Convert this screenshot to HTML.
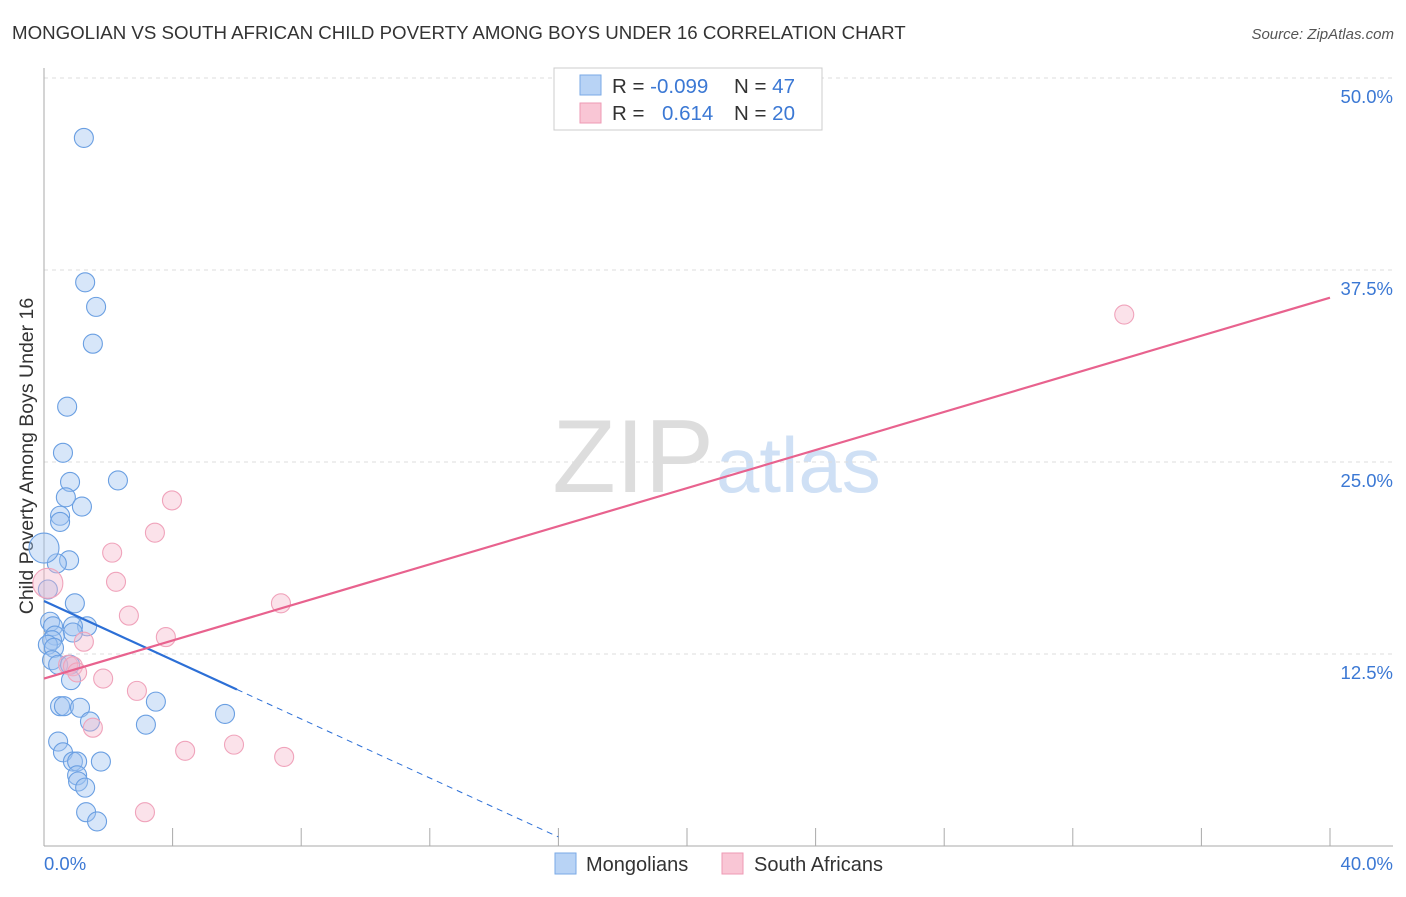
<!DOCTYPE html>
<html><head><meta charset="utf-8"><style>
body{margin:0;background:#fff;font-family:"Liberation Sans",sans-serif;}
svg text{font-family:"Liberation Sans",sans-serif;}
</style></head><body>
<svg id="chart" width="1406" height="892" xmlns="http://www.w3.org/2000/svg">
<text x="12" y="39" font-size="18.7" fill="#333">MONGOLIAN VS SOUTH AFRICAN CHILD POVERTY AMONG BOYS UNDER 16 CORRELATION CHART</text>
<text x="1394" y="39" font-size="15" fill="#555" font-style="italic" text-anchor="end">Source: ZipAtlas.com</text>
<text x="714" y="492" font-size="104" fill="#ddd" text-anchor="end" font-family="Liberation Serif">ZIP</text>
<text x="716" y="492" font-size="78" fill="#cfe0f5">atlas</text>
<text transform="translate(33,456) rotate(-90)" font-size="19.5" fill="#333" text-anchor="middle">Child Poverty Among Boys Under 16</text>
<g id="axes"></g>
<g id="marks"></g>
<rect x="554" y="68" width="268" height="62" fill="#fff" stroke="#ccc"/>
<rect x="580" y="75" width="21" height="20" fill="#b8d3f5" stroke="#7aa9e6"/>
<rect x="580" y="103" width="21" height="20" fill="#f9c6d5" stroke="#ee9ab4"/>
<text x="612" y="93" font-size="20.5" fill="#333">R = <tspan fill="#3b78d4">-0.099</tspan></text>
<text x="734" y="93" font-size="20.5" fill="#333">N = <tspan fill="#3b78d4">47</tspan></text>
<text x="612" y="120" font-size="20.5" fill="#333">R = <tspan fill="#3b78d4" x="662">0.614</tspan></text>
<text x="734" y="120" font-size="20.5" fill="#333">N = <tspan fill="#3b78d4">20</tspan></text>
<rect x="555" y="853" width="21" height="21" fill="#b8d3f5" stroke="#7aa9e6"/>
<text x="586" y="871" font-size="20" fill="#333">Mongolians</text>
<rect x="722" y="853" width="21" height="21" fill="#f9c6d5" stroke="#ee9ab4"/>
<text x="754" y="871" font-size="20" fill="#333">South Africans</text>
</svg>
<script>
const xTicks=[0,4,8,12,16,20,24,28,32,36,40];
const yTicks=[12.5,25,37.5,50];
const yTickLabels=["12.5%","25.0%","37.5%","50.0%"];
const mongX=[1.24,1.28,1.62,1.52,0.72,0.59,0.81,2.30,0.68,1.18,0.50,0.50,0.78,0.40,0.12,0.96,1.34,0.90,0.90,0.19,0.28,0.34,0.25,0.12,0.31,0.25,0.44,0.81,0.84,0.50,0.62,1.12,3.48,1.43,3.17,5.63,0.44,0.59,0.90,1.03,1.77,1.03,1.06,1.28,1.31,1.65,0.0];
const mongY=[46.1,36.7,35.1,32.7,28.6,25.6,23.7,23.8,22.7,22.1,21.5,21.1,18.6,18.4,16.7,15.8,14.3,14.3,13.9,14.6,14.3,13.7,13.4,13.1,12.9,12.1,11.8,11.8,10.8,9.1,9.1,9.0,9.4,8.1,7.9,8.6,6.8,6.1,5.5,5.5,5.5,4.6,4.2,3.8,2.2,1.6,19.4];
const mongBig=[46];
const saX=[0.12,33.6,3.98,3.45,2.12,2.24,2.64,7.37,3.79,1.24,0.75,0.90,1.03,1.84,2.89,1.52,4.39,5.91,7.47,3.14];
const saY=[17.1,34.6,22.5,20.4,19.1,17.2,15.0,15.8,13.6,13.3,11.8,11.7,11.3,10.9,10.1,7.7,6.2,6.6,5.8,2.2];
const saBig=[0];
const mongTrend=[15.95,-0.96];
const saTrend=[10.9,0.62];
const NS="http://www.w3.org/2000/svg";
const X=v=>44+v*32.15, Y=v=>846-v*15.36;
const axes=document.getElementById('axes'), marks=document.getElementById('marks');
function mk(tag,at,parent){const e=document.createElementNS(NS,tag);for(const k in at)e.setAttribute(k,at[k]);parent.appendChild(e);return e;}
yTicks.forEach((t,i)=>{
 const g=mk('line',{x1:44,x2:1393,y1:Y(t),y2:Y(t),stroke:'#ddd','stroke-dasharray':'4,4'},axes);
 
 
 const l=mk('text',{x:1393,y:Y(t)+25,'font-size':18.5,fill:'#3b78d4','text-anchor':'end'},axes);
 l.textContent=yTickLabels[i];
 
 
});
const ya=mk('line',{x1:44,x2:44,y1:68,y2:846,stroke:'#aaa'},axes);


const xa=mk('line',{x1:44,x2:1393,y1:846,y2:846,stroke:'#aaa'},axes);


xTicks.forEach(t=>{
 const k=mk('line',{x1:X(t),x2:X(t),y1:828,y2:846,stroke:'#aaa'},axes);
 
 
});
const l0=mk('text',{x:44,y:870,'font-size':18.5,fill:'#3b78d4'},axes);l0.textContent=xTicks[0].toFixed(1)+'%';


const l1=mk('text',{x:1393,y:870,'font-size':18.5,fill:'#3b78d4','text-anchor':'end'},axes);l1.textContent=xTicks[xTicks.length-1].toFixed(1)+'%';


function pts(xs,ys,big,fill,stroke,name){xs.forEach((x,i)=>{
 const c=mk('circle',{cx:X(x),cy:Y(ys[i]),r:big.includes(i)?15:9.5,fill:fill,stroke:stroke,'stroke-width':1.1},marks);
 
 
});}
pts(mongX,mongY,mongBig,'rgba(160,196,240,0.42)','#6a9fe2','mongolian-point');
pts(saX,saY,saBig,'rgba(246,182,202,0.4)','#f0a3bb','south-african-point');
const tb=mk('line',{x1:X(0),y1:Y(mongTrend[0]),x2:X(6),y2:Y(mongTrend[0]+mongTrend[1]*6),stroke:'#2c6fd6','stroke-width':2.2},marks);


const td=mk('line',{x1:X(6),y1:Y(mongTrend[0]+mongTrend[1]*6),x2:X(16),y2:Y(mongTrend[0]+mongTrend[1]*16),stroke:'#2c6fd6','stroke-width':1,'stroke-dasharray':'6,5'},marks);


const tp=mk('line',{x1:X(0),y1:Y(saTrend[0]),x2:X(40),y2:Y(saTrend[0]+saTrend[1]*40),stroke:'#e8628e','stroke-width':2.2},marks);


</script>
</body></html>
